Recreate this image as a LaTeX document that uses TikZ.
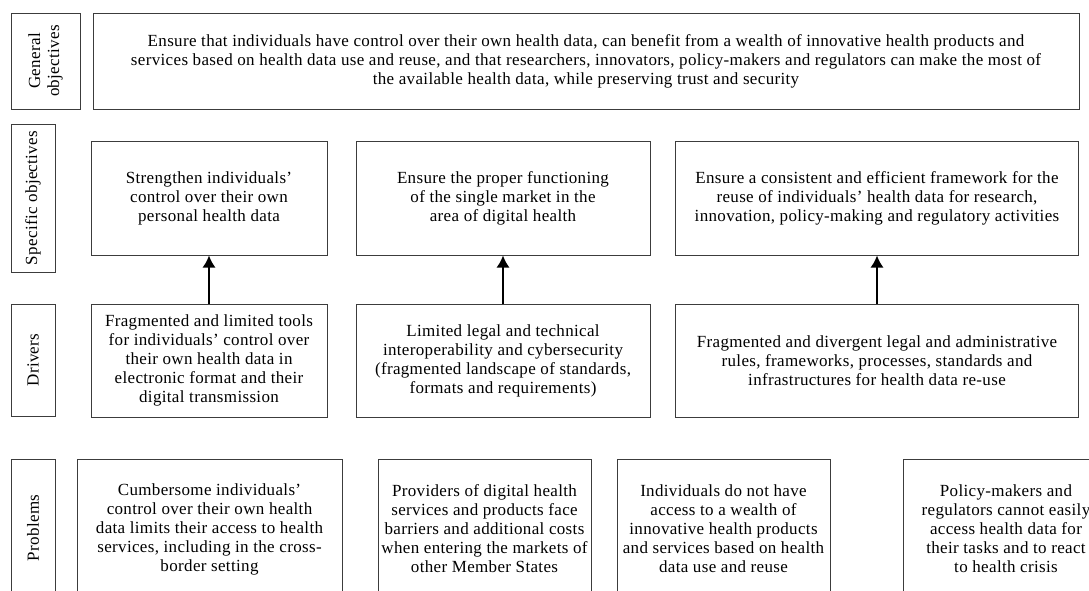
\documentclass[tikz,border=0pt]{standalone}
\usepackage{fontspec}
\setmainfont{Liberation Serif}[LetterSpace=2]
\usetikzlibrary{arrows.meta}
\definecolor{edge}{HTML}{3C3C3C}
\tikzset{>=latex}
\tikzset{
    box/.style={draw=edge,line width=1pt,rectangle,align=center,inner sep=0pt,font=\fontsize{17}{19}\selectfont},
    levellabel/.style={box,rotate=90},
}
\begin{document}
\begin{tikzpicture}[x=1pt,y=-1pt]
    \useasboundingbox (0,0) rectangle (1089,590);
    \clip (0,0) rectangle (1089,590);
    \node[levellabel,minimum width=96pt,minimum height=69pt] (genlbl) at (45.5,61) {General\\objectives};
    \node[box,minimum width=986pt,minimum height=96pt] (gen) at (586,61) {Ensure that individuals have control over their own health data, can benefit from a wealth of innovative health products and\\services based on health data use and reuse, and that researchers, innovators, policy-makers and regulators can make the most of\\the available health data, while preserving trust and security};
    \node[levellabel,minimum width=148pt,minimum height=44pt] (speclbl) at (33,198) {Specific objectives};
    \node[box,minimum width=236pt,minimum height=114pt] (spec1) at (209,198) {Strengthen individuals’\\control over their own\\personal health data};
    \node[box,minimum width=294pt,minimum height=114pt] (spec2) at (503,198) {Ensure the proper functioning\\of the single market in the\\area of digital health};
    \node[box,minimum width=403pt,minimum height=114pt] (spec3) at (877,198) {Ensure a consistent and efficient framework for the\\reuse of individuals’ health data for research,\\innovation, policy-making and regulatory activities};
    \node[levellabel,minimum width=112pt,minimum height=44pt] (drvlbl) at (33,360) {Drivers};
    \node[box,minimum width=236pt,minimum height=113pt] (drv1) at (209,360.5) {Fragmented and limited tools\\for individuals’ control over\\their own health data in\\electronic format and their\\digital transmission};
    \node[box,minimum width=294pt,minimum height=113pt] (drv2) at (503,360.5) {Limited legal and technical\\interoperability and cybersecurity\\(fragmented landscape of standards,\\formats and requirements)};
    \node[box,minimum width=403pt,minimum height=113pt] (drv3) at (877,360.5) {Fragmented and divergent legal and administrative\\rules, frameworks, processes, standards and\\infrastructures for health data re-use};
    \node[levellabel,minimum width=138pt,minimum height=44pt] (problbl) at (33,528) {Problems};
    \node[box,minimum width=265pt,minimum height=140pt] (prob1) at (209.5,529) {Cumbersome individuals’\\control over their own health\\data limits their access to health\\services, including in the cross-\\border setting};
    \node[box,minimum width=213pt,minimum height=140pt] (prob2) at (484.5,529) {Providers of digital health\\services and products face\\barriers and additional costs\\when entering the markets of\\other Member States};
    \node[box,minimum width=213pt,minimum height=140pt] (prob3) at (723.5,529) {Individuals do not have\\access to a wealth of\\innovative health products\\and services based on health\\data use and reuse};
    \node[box,minimum width=206pt,minimum height=140pt] (prob4) at (1006,529) {Policy-makers and\\regulators cannot easily\\access health data for\\their tasks and to react\\to health crisis};
    \foreach \i in {1,2,3}
        \draw[-{Latex[length=12pt,width=13pt]},line width=1.6pt] (drv\i) -- (spec\i);
\end{tikzpicture}
\end{document}
